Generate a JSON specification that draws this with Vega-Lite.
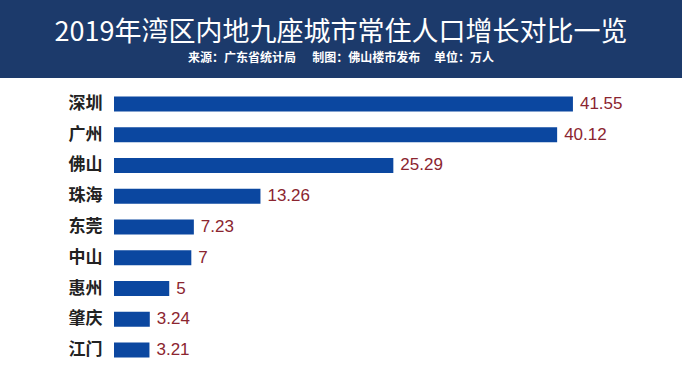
{
  "$schema": "https://vega.github.io/schema/vega-lite/v6.json",
  "padding": 0,
  "background": "white",
  "spacing": 0,
  "config": {"view": {"stroke": null}, "font": "Noto Sans CJK SC"},
  "vconcat": [
    {
      "width": 682,
      "height": 78,
      "view": {"fill": "#1c3a6b", "stroke": null},
      "data": {"values": [{"title": "2019年湾区内地九座城市常住人口增长对比一览", "subtitle": "来源：广东省统计局\u00a0\u00a0\u00a0\u00a0\u00a0\u00a0制图：佛山楼市发布\u00a0\u00a0\u00a0\u00a0\u00a0单位：万人"}]},
      "layer": [
        {
          "mark": {"type": "text", "color": "white", "fontSize": 27, "font": "Noto Sans CJK SC", "fontWeight": "normal", "dy": -6, "baseline": "middle", "align": "center"},
          "encoding": {"text": {"field": "title"}}
        },
        {
          "mark": {"type": "text", "color": "white", "fontSize": 12, "font": "Noto Sans CJK SC", "fontWeight": "bold", "dy": 19, "baseline": "middle", "align": "center"},
          "encoding": {"text": {"field": "subtitle"}}
        }
      ]
    },
    {
      "width": 682,
      "height": 298,
      "data": {"values": [
        {"city": "深圳", "value": 41.55},
        {"city": "广州", "value": 40.12},
        {"city": "佛山", "value": 25.29},
        {"city": "珠海", "value": 13.26},
        {"city": "东莞", "value": 7.23},
        {"city": "中山", "value": 7},
        {"city": "惠州", "value": 5},
        {"city": "肇庆", "value": 3.24},
        {"city": "江门", "value": 3.21}
      ]},
      "encoding": {
        "y": {
          "field": "city", "type": "nominal", "sort": null,
          "scale": {"paddingInner": 0.51, "paddingOuter": 0.6},
          "axis": {"title": null, "domain": false, "ticks": false, "offset": -114, "labelPadding": 12, "labelFontSize": 17, "labelFontWeight": "bold", "labelColor": "#222222", "labelFont": "Noto Sans CJK SC"}
        },
        "x": {
          "field": "value", "type": "quantitative",
          "scale": {"domain": [0, 50.7], "range": [114, 674], "nice": false, "zero": true},
          "axis": null
        }
      },
      "layer": [
        {"mark": {"type": "bar", "color": "#0b47a0"}},
        {
          "mark": {"type": "text", "align": "left", "baseline": "middle", "dx": 7, "fontSize": 17, "color": "#8b2530", "font": "Liberation Sans"},
          "encoding": {"text": {"field": "value", "type": "quantitative", "format": "~g"}}
        }
      ]
    }
  ]
}
